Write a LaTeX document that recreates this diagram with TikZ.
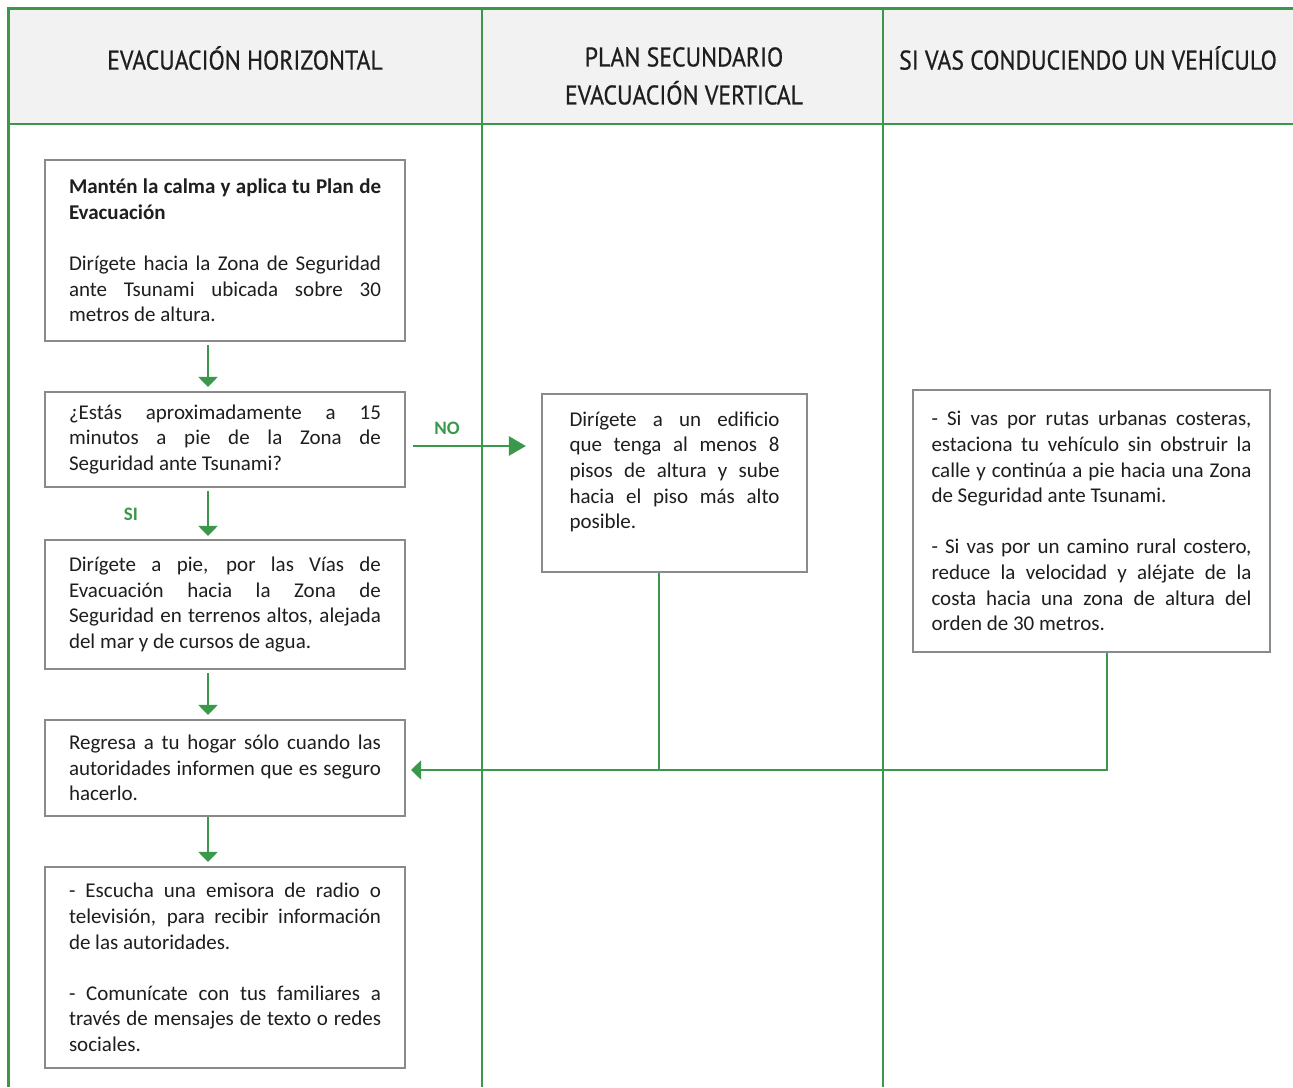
\documentclass[tikz,border=0pt]{standalone}
\usepackage{fontspec}
\setmainfont{Carlito}
\newfontfamily\cabfont[FakeStretch=0.88,FakeBold=0.6]{PT Sans}
\usetikzlibrary{arrows.meta}
\hyphenpenalty=10000
\exhyphenpenalty=10000
\tolerance=9999

\definecolor{verde}{RGB}{58,152,74}
\definecolor{gris}{RGB}{138,138,138}
\definecolor{fondo}{RGB}{242,242,242}
\definecolor{texto}{RGB}{30,30,30}

\tikzset{
  caja/.style={draw=gris, line width=2.2pt, fill=white, text=texto, align=justify,
    inner sep=0pt, font=\fontsize{21}{25.6}\selectfont},
  cabecera/.style={text=texto, align=center, font=\cabfont\fontsize{27}{38}\selectfont},
  linea/.style={draw=verde, line width=2.6pt},
  flecha/.style={linea, -{Triangle[length=10pt,width=19pt]}},
  etiqueta/.style={text=verde, font=\bfseries\fontsize{19}{22}\selectfont}
}

\begin{document}
\begin{tikzpicture}[x=1pt, y=-1pt]
    \useasboundingbox (0,0) rectangle (1293,1087);

    % marco y cabecera
    \fill[fondo] (8.5,8.5) rectangle (1293,124);
    \draw[linea] (8.5,1087) -- (8.5,8.5) -- (1293,8.5);
    \draw[linea] (8.5,124) -- (1293,124);
    \draw[linea] (482,8.5) -- (482,1087);
    \draw[linea] (883,8.5) -- (883,1087);

    \node[cabecera] (H1) at (245,58) {EVACUACIÓN HORIZONTAL};
    \node[cabecera] (H2) at (684,76) {PLAN SECUNDARIO\\EVACUACIÓN VERTICAL};
    \node[cabecera] (H3) at (1088,58) {SI VAS CONDUCIENDO UN VEHÍCULO};

    % pasos
    \node[caja, minimum width=360pt, minimum height=181pt, text width=312pt] (P1) at (225,250.5)
        {\textbf{Mantén la calma y aplica tu Plan de Evacuación}\\[25.6pt]
         Dirígete hacia la Zona de Seguridad ante Tsunami ubicada sobre 30 metros de altura.};
    \node[caja, minimum width=360pt, minimum height=95pt, text width=312pt] (P2) at (225,439.5)
        {¿Estás aproximadamente a 15 minutos a pie de la Zona de Seguridad ante Tsunami?};
    \node[caja, minimum width=360pt, minimum height=129pt, text width=312pt] (P3) at (225,604.5)
        {Dirígete a pie, por las Vías de Evacuación hacia la Zona de Seguridad en terrenos altos, alejada del mar y de cursos de agua.};
    \node[caja, minimum width=360pt, minimum height=96pt, text width=312pt] (P4) at (225,768)
        {Regresa a tu hogar sólo cuando las autoridades informen que es seguro hacerlo.};
    \node[caja, minimum width=360pt, minimum height=201pt, text width=312pt] (P5) at (225,967.5)
        {- Escucha una emisora de radio o televisión, para recibir información de las autoridades.\\[25.6pt]
         - Comunícate con tus familiares a través de mensajes de texto o redes sociales.};
    \node[caja, minimum width=265pt, minimum height=178pt, text width=210pt] (P6) at (674.5,483)
        {Dirígete a un edificio\linebreak que tenga al menos 8\linebreak pisos de altura y sube\linebreak
         hacia el piso más alto\linebreak posible.\\ \mbox{}};
    \node[caja, minimum width=357pt, minimum height=262pt, text width=320pt] (P7) at (1091.5,521)
        {- Si vas por rutas urbanas costeras, estaciona tu vehículo sin obstruir la calle y continúa a pie hacia una Zona de Seguridad ante Tsunami.\\[25.6pt]
         - Si vas por un camino rural costero, reduce la velocidad y aléjate de la costa hacia una zona de altura del orden de 30 metros.};

    \node[etiqueta] (no) at (447,428) {NO};
    \node[etiqueta] (si) at (131,514) {SI};

    % conexiones
    \draw[flecha, shorten <=3pt, shorten >=4pt] ([xshift=-17pt]P1.south) -- ([xshift=-17pt]P2.north);
    \draw[flecha, shorten <=3pt, shorten >=3pt] ([xshift=-17pt]P2.south) -- ([xshift=-17pt]P3.north);
    \draw[flecha, shorten <=3pt, shorten >=4pt] ([xshift=-17pt]P3.south) -- ([xshift=-17pt]P4.north);
    \draw[flecha, shorten <=0pt, shorten >=4pt] ([xshift=-17pt]P4.south) -- ([xshift=-17pt]P5.north);
    \draw[linea, -{Triangle[length=17pt,width=19pt]}, shorten <=7pt, shorten >=15pt]
        ([yshift=-6.5pt]P2.east) -- ([yshift=-6.5pt]P2.east -| P6.west);
    \draw[linea] ([xshift=-15.5pt]P6.south) -- ([xshift=-15.5pt,yshift=-2pt]P6.south |- P4.east);
    \draw[flecha, shorten >=5pt] ([xshift=15.5pt]P7.south) |- ([yshift=-2pt]P4.east);

\end{tikzpicture}
\end{document}
